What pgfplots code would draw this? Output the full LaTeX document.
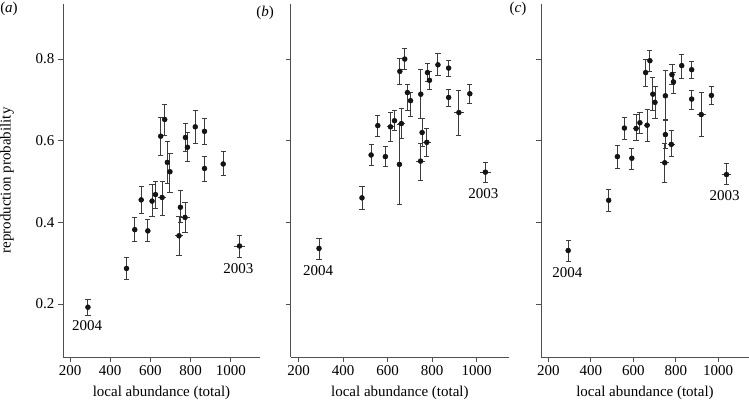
\documentclass[border=0pt]{standalone}
\usepackage{fontspec}
\setmainfont{Liberation Serif}
\usepackage{pgfplots}
\usepackage{pgfplotstable}
\pgfplotsset{compat=1.18}

\definecolor{errgray}{RGB}{60,60,60}
\definecolor{dotblack}{RGB}{20,20,20}
\definecolor{axgray}{RGB}{80,80,80}

% columns: abundance, probability, x error, y error plus, y error minus
\pgfplotstableread{
x y ex ep em
289 0.192 0 0.020 0.019
481 0.287 0 0.026 0.027
522 0.382 0 0.029 0.029
554 0.455 0 0.032 0.033
587 0.379 0 0.027 0.026
608 0.452 12 0.040 0.038
625 0.468 0 0.033 0.034
651 0.611 0 0.046 0.046
658 0.461 20 0.040 0.043
671 0.652 0 0.037 0.038
684 0.547 0 0.050 0.052
697 0.524 0 0.046 0.050
742 0.367 18 0.048 0.047
749 0.437 0 0.040 0.038
772 0.412 25 0.037 0.036
774 0.608 0 0.034 0.035
784 0.584 0 0.036 0.036
823 0.634 0 0.041 0.041
869 0.623 0 0.031 0.031
869 0.532 0 0.029 0.031
962 0.543 0 0.030 0.029
1043 0.342 25 0.027 0.028
}\ta

\pgfplotstableread{
x y ex ep em
292 0.336 0 0.025 0.027
485 0.460 0 0.027 0.028
526 0.565 0 0.026 0.026
556 0.637 0 0.026 0.027
590 0.561 0 0.024 0.025
613 0.634 15 0.035 0.036
631 0.649 0 0.026 0.025
653 0.542 0 0.098 0.097
655 0.770 0 0.032 0.033
662 0.642 15 0.037 0.037
677 0.800 0 0.025 0.026
689 0.718 0 0.019 0.043
703 0.698 0 0.020 0.039
748 0.550 20 0.043 0.047
749 0.714 0 0.061 0.059
755 0.620 0 0.035 0.035
776 0.596 18 0.034 0.034
779 0.767 0 0.023 0.022
788 0.748 0 0.022 0.023
826 0.786 0 0.029 0.027
874 0.778 0 0.019 0.021
874 0.706 0 0.020 0.022
920 0.669 22 0.053 0.055
969 0.715 0 0.022 0.023
1039 0.523 24 0.024 0.026
}\tb

\pgfplotstableread{
x y ex ep em
293 0.331 0 0.024 0.026
484 0.454 0 0.027 0.028
525 0.561 0 0.027 0.029
558 0.631 0 0.026 0.028
593 0.557 0 0.024 0.027
613 0.630 15 0.035 0.029
631 0.644 0 0.025 0.026
658 0.767 0 0.031 0.034
665 0.638 15 0.038 0.039
678 0.796 0 0.025 0.026
692 0.714 0 0.042 0.039
702 0.694 0 0.040 0.039
748 0.546 20 0.047 0.049
751 0.710 0 0.062 0.061
751 0.615 0 0.036 0.034
779 0.591 18 0.033 0.030
782 0.762 0 0.024 0.025
789 0.744 0 0.023 0.028
828 0.784 0 0.027 0.031
875 0.774 0 0.020 0.021
875 0.702 0 0.021 0.025
920 0.664 22 0.054 0.054
968 0.711 0 0.022 0.023
1039 0.517 22 0.027 0.025
}\tc

\newcommand{\fs}{\fontsize{15}{18}\selectfont}

\pgfplotsset{
  panel/.style={
    scale only axis, height=353pt,
    xmin=165, xmax=1145, ymin=0.07, ymax=0.935,
    axis lines=left,
    axis line style={-, axgray, line width=0.8pt},
    xtick={200,400,...,1000}, ytick={0.2,0.4,0.6,0.8},
    tick align=outside, major tick length=5pt,
    tick style={axgray, line width=0.8pt},
    ticklabel style={font=\fs},
    label style={font=\fs},
    /pgf/number format/assume math mode=true,
    /pgf/number format/1000 sep={},
    yticklabel style={/pgf/number format/fixed, /pgf/number format/precision=1, /pgf/number format/fixed zerofill},
    xlabel={local abundance (total)},
    xlabel style={at={(axis description cs:0.5,0)}, anchor=center, yshift=-36pt},
    clip=false,
  },
  xerr/.style={only marks, mark=none, forget plot,
    error bars/.cd, x dir=both, x explicit, error mark=none,
    error bar style={errgray, line width=0.9pt}},
  pts/.style={only marks, mark=*, mark size=2.5pt,
    mark options={draw=dotblack, fill=dotblack},
    error bars/.cd, y dir=both, y explicit,
    error bar style={errgray, line width=0.9pt},
    error mark options={rotate=90, errgray, mark size=2.6pt, line width=0.9pt}},
}
\tikzset{yr/.style={font=\fs, anchor=center, yshift=-11pt}}

\begin{document}
\begin{tikzpicture}
% panel (a)
\begin{axis}[panel, at={(63pt,45pt)}, anchor=south west, width=197pt,
  ylabel={reproduction probability},
  ylabel style={at={(axis description cs:-0.284,0.5)}, anchor=center}]
\addplot[xerr] table[x=x, y=y, x error=ex] \ta;
\addplot[pts] table[x=x, y=y, y error plus=ep, y error minus=em] \ta;
\node[yr] at (axis cs:285,0.173) {2004};
\node[yr] at (axis cs:1038,0.314) {2003};
\end{axis}

% panel (b)
\begin{axis}[panel, at={(290.7pt,45pt)}, anchor=south west, width=218.3pt,
  yticklabels={}]
\addplot[xerr] table[x=x, y=y, x error=ex] \tb;
\addplot[pts] table[x=x, y=y, y error plus=ep, y error minus=em] \tb;
\node[yr] at (axis cs:288,0.309) {2004};
\node[yr] at (axis cs:1030,0.497) {2003};
\end{axis}

% panel (c)
\begin{axis}[panel, at={(541pt,45pt)}, anchor=south west, width=208pt,
  yticklabels={}]
\addplot[xerr] table[x=x, y=y, x error=ex] \tc;
\addplot[pts] table[x=x, y=y, y error plus=ep, y error minus=em] \tc;
\node[yr] at (axis cs:289,0.305) {2004};
\node[yr] at (axis cs:1030,0.492) {2003};
\end{axis}

\node[font=\fs] at (9pt,393pt) {(\textit{a})};
\node[font=\fs] at (265pt,389pt) {(\textit{b})};
\node[font=\fs] at (518pt,393pt) {(\textit{c})};

\pgfresetboundingbox
\path[use as bounding box] (0,0) rectangle (749pt,402pt);
\end{tikzpicture}
\end{document}
